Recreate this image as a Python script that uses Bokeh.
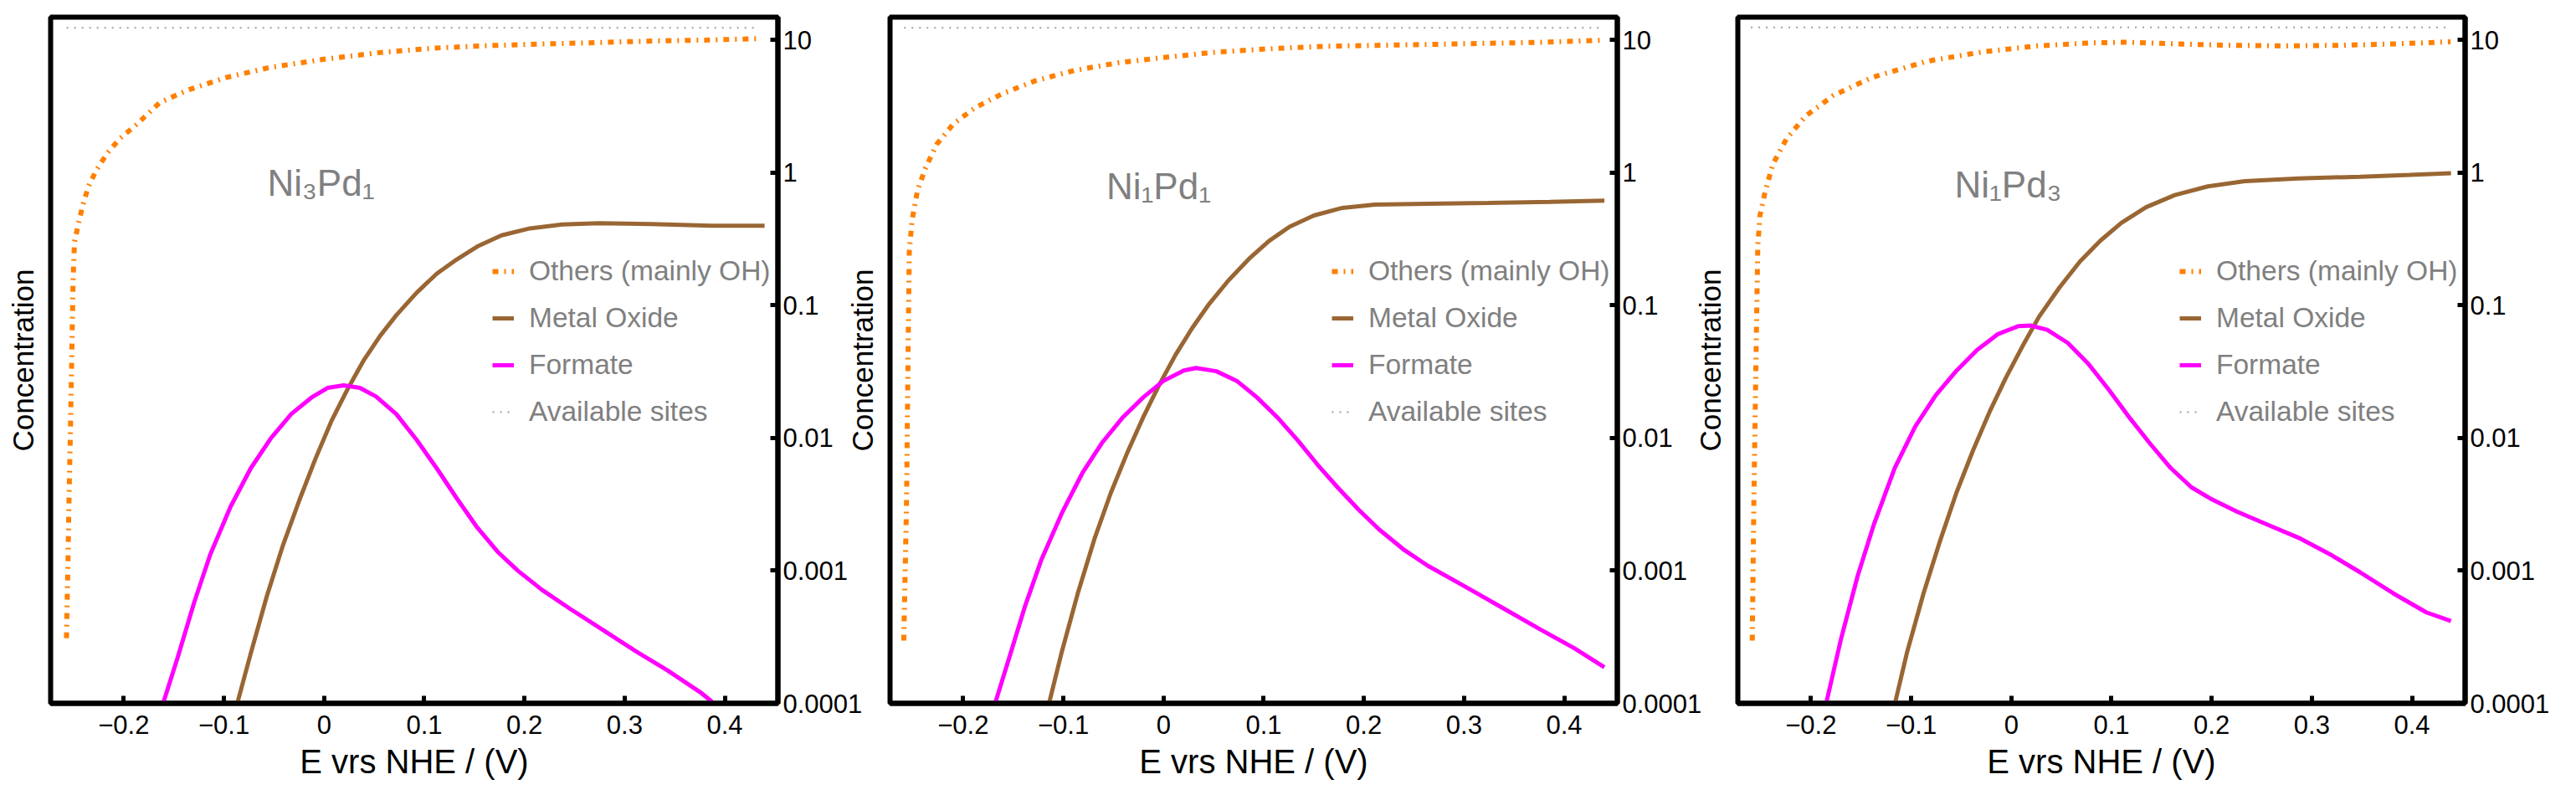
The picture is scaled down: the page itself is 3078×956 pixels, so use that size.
from bokeh.plotting import figure
from bokeh.layouts import row
from bokeh.models import (FixedTicker, CustomJSTickFormatter, LogAxis, Legend,
                          LegendItem, Label)
from bokeh.embed import file_html
from bokeh.resources import INLINE

FONT = "Liberation Sans"

# ---------------- data ----------------
panel_names = ["Ni\u2083Pd\u2081", "Ni\u2081Pd\u2081", "Ni\u2081Pd\u2083"]
legend_labels = ["Others (mainly OH)", "Metal Oxide", "Formate", "Available sites"]
x_ticks = [-0.2, -0.1, 0.0, 0.1, 0.2, 0.3, 0.4]
y_ticks = [1e-4, 1e-3, 1e-2, 1e-1, 1.0, 10.0]

# Panel 1: Ni3Pd1
p1_others_x = [-0.2572, -0.2556, -0.2545, -0.2533, -0.2519, -0.2506, -0.2492, -0.245, -0.2408,
               -0.2353, -0.2269, -0.2158, -0.2033, -0.1883, -0.1641, -0.1368, -0.0984, -0.0546,
               0.0, 0.0549, 0.1097, 0.1645, 0.2192, 0.274, 0.3287, 0.3835, 0.4328]
p1_others_y = [3.1e-4, 1.26e-3, 4.0e-3, 1.07e-2, 4.13e-2, 0.152, 0.298, 0.42, 0.571,
               0.782, 1.06, 1.416, 1.82, 2.26, 3.36, 4.16, 5.18, 6.18,
               7.13, 8.0, 8.65, 9.04, 9.29, 9.53, 9.79, 9.95, 10.2]
p1_oxide_x = [-0.0862, -0.0733, -0.0572, -0.041, -0.0248, -0.0087, 0.0075, 0.0237, 0.0398,
              0.0559, 0.0721, 0.0923, 0.1125, 0.1327, 0.1529, 0.1771, 0.2054, 0.2377, 0.2741,
              0.3266, 0.3872, 0.4397]
p1_oxide_y = [1.03e-4, 2.37e-4, 6.41e-4, 1.56e-3, 3.38e-3, 6.95e-3, 1.35e-2, 2.35e-2, 3.87e-2,
              5.87e-2, 8.41e-2, 0.124, 0.173, 0.222, 0.277, 0.336, 0.379, 0.406, 0.415,
              0.408, 0.397, 0.397]
p1_formate_x = [-0.1602, -0.146, -0.1298, -0.1137, -0.0935, -0.0733, -0.0531, -0.0329, -0.0128,
                0.0034, 0.0196, 0.0357, 0.0519, 0.0721, 0.0923, 0.1125, 0.1327, 0.1529, 0.1731,
                0.1933, 0.2175, 0.2458, 0.2781, 0.3104, 0.3428, 0.375, 0.3872]
p1_formate_y = [1.03e-4, 2.24e-4, 5.73e-4, 1.32e-3, 3.02e-3, 5.89e-3, 9.95e-3, 1.51e-2, 2.01e-2,
                2.38e-2, 2.49e-2, 2.38e-2, 2.05e-2, 1.51e-2, 9.68e-3, 5.89e-3, 3.48e-3, 2.11e-3,
                1.39e-3, 1.0e-3, 7.16e-4, 5.14e-4, 3.58e-4, 2.49e-4, 1.77e-4, 1.22e-4, 1.03e-4]
p1_sites_x = [-0.257, 0.434]
p1_sites_y = [12.3, 12.3]

# Panel 2: Ni1Pd1
p2_others_x = [-0.2593, -0.2566, -0.255, -0.2538, -0.2511, -0.2456, -0.2374, -0.2264, -0.2099,
               -0.1879, -0.1604, -0.1275, -0.089, -0.0451, -0.001, 0.0484, 0.1033, 0.1582,
               0.2132, 0.2681, 0.323, 0.378, 0.4385]
p2_others_y = [2.97e-4, 3.03e-3, 4.32e-2, 0.254, 0.432, 0.733, 1.09, 1.63, 2.32,
               3.08, 3.94, 4.92, 5.87, 6.71, 7.33, 8.02, 8.53, 8.91,
               9.08, 9.23, 9.40, 9.57, 9.91]
p2_oxide_x = [-0.1144, -0.1014, -0.0852, -0.069, -0.0527, -0.0365, -0.0203, -0.004, 0.0122,
              0.0285, 0.0446, 0.0649, 0.0852, 0.1054, 0.1258, 0.1501, 0.1785, 0.211, 0.2637,
              0.3245, 0.3854, 0.4401]
p2_oxide_y = [9.9e-5, 2.47e-4, 6.90e-4, 1.73e-3, 3.84e-3, 7.64e-3, 1.43e-2, 2.54e-2, 4.25e-2,
              6.70e-2, 0.100, 0.154, 0.223, 0.305, 0.390, 0.474, 0.541, 0.573, 0.582,
              0.589, 0.600, 0.614]
p2_formate_x = [-0.1683, -0.1541, -0.1379, -0.1217, -0.1014, -0.0811, -0.0608, -0.0406, -0.0203,
                0.0, 0.0203, 0.0325, 0.0527, 0.0731, 0.0933, 0.1136, 0.1339, 0.1541, 0.1744,
                0.1947, 0.215, 0.2393, 0.2637, 0.2961, 0.3367, 0.3772, 0.4097, 0.4401]
p2_formate_y = [9.9e-5, 2.20e-4, 5.50e-4, 1.22e-3, 2.72e-3, 5.42e-3, 9.31e-3, 1.43e-2, 2.02e-2,
                2.69e-2, 3.22e-2, 3.36e-2, 3.18e-2, 2.69e-2, 2.02e-2, 1.43e-2, 9.59e-3, 6.24e-3,
                4.19e-3, 2.88e-3, 2.05e-3, 1.45e-3, 1.09e-3, 7.96e-4, 5.33e-4, 3.57e-4, 2.61e-4,
                1.87e-4]
p2_sites_x = [-0.259, 0.438]
p2_sites_y = [12.3, 12.3]

# Panel 3: Ni1Pd3
p3_others_x = [-0.2586, -0.257, -0.2547, -0.2531, -0.2509, -0.2465, -0.2382, -0.2245, -0.2052,
               -0.1777, -0.1392, -0.0842, -0.0292, 0.0259, 0.0809, 0.1139, 0.1634, 0.2184,
               0.2735, 0.3285, 0.3835, 0.4385]
p3_others_y = [2.97e-4, 3.31e-3, 4.73e-2, 0.279, 0.474, 0.676, 1.15, 1.79, 2.67,
               3.80, 5.19, 6.89, 8.09, 8.99, 9.48, 9.57, 9.31, 9.08,
               8.99, 9.08, 9.31, 9.66]
p3_oxide_x = [-0.1156, -0.1041, -0.0876, -0.0712, -0.0547, -0.0383, -0.0219, -0.0054, 0.0111,
              0.0276, 0.0481, 0.0687, 0.0892, 0.1098, 0.1345, 0.1632, 0.1961, 0.2331, 0.2867,
              0.3483, 0.3977, 0.4389]
p3_oxide_y = [1.04e-4, 2.42e-4, 6.75e-4, 1.67e-3, 3.88e-3, 8.02e-3, 1.56e-2, 2.84e-2, 4.90e-2,
              8.17e-2, 0.136, 0.214, 0.308, 0.417, 0.547, 0.675, 0.785, 0.859, 0.902,
              0.929, 0.959, 0.986]
p3_formate_x = [-0.1843, -0.1699, -0.1534, -0.137, -0.1164, -0.0959, -0.0753, -0.0547, -0.0342,
                -0.0136, 0.007, 0.0193, 0.0358, 0.0563, 0.0769, 0.0975, 0.118, 0.1386, 0.1591,
                0.1797, 0.2003, 0.225, 0.2538, 0.2867, 0.3195, 0.3483, 0.3812, 0.4142, 0.4389]
p3_formate_y = [1.04e-4, 3.08e-4, 9.12e-4, 2.25e-3, 5.93e-3, 1.22e-2, 2.10e-2, 3.21e-2, 4.60e-2,
                6.04e-2, 6.95e-2, 7.03e-2, 6.53e-2, 5.20e-2, 3.62e-2, 2.30e-2, 1.42e-2, 9.04e-3,
                5.93e-3, 4.25e-3, 3.44e-3, 2.79e-3, 2.25e-3, 1.77e-3, 1.31e-3, 9.70e-4, 6.75e-4,
                4.85e-4, 4.17e-4]
p3_sites_x = [-0.260, 0.436]
p3_sites_y = [12.4, 12.4]

label_pos_x = [-0.0567, -0.0571, -0.0567]
label_pos_y = [0.83, 0.79, 0.81]

# ---------------- styling ----------------
C_ORANGE = "#FF8000"
C_BROWN = "#996633"
C_MAGENTA = "#FF00FF"
C_SITES = "#a0a0a0"
C_GRAY = "#808080"
C_FRAME = "black"

panels = [
    (p1_others_x, p1_others_y, p1_oxide_x, p1_oxide_y, p1_formate_x, p1_formate_y, p1_sites_x, p1_sites_y),
    (p2_others_x, p2_others_y, p2_oxide_x, p2_oxide_y, p2_formate_x, p2_formate_y, p2_sites_x, p2_sites_y),
    (p3_others_x, p3_others_y, p3_oxide_x, p3_oxide_y, p3_formate_x, p3_formate_y, p3_sites_x, p3_sites_y),
]
margins = [None, (0, 0, 0, -36), (0, 0, 0, -26)]

x_fmt_code = """
if (Math.abs(tick) < 1e-9) { return '0'; }
const s = Math.abs(tick).toFixed(1);
return tick < 0 ? '\\u2212' + s : s;
"""

figs = []
for i, (ox, oy, mx, my, fx, fy, sx, sy) in enumerate(panels):
    kw = {}
    if margins[i] is not None:
        kw["margin"] = margins[i]
    p = figure(frame_width=869, frame_height=820,
               x_range=(-0.273, 0.453), y_range=(1e-4, 14.8),
               y_axis_type="log", y_axis_location="right",
               output_backend="svg", toolbar_location=None,
               min_border_left=60, min_border_right=110,
               min_border_top=20, min_border_bottom=100,
               border_fill_color=None, **kw)
    p.grid.visible = False
    p.outline_line_color = C_FRAME
    p.outline_line_width = 6
    ya = p.yaxis[0]
    xa = p.xaxis[0]
    ya.ticker = FixedTicker(ticks=y_ticks, minor_ticks=[])
    ya.formatter = CustomJSTickFormatter(code="return tick.toString();")
    xa.ticker = FixedTicker(ticks=x_ticks, minor_ticks=[])
    xa.formatter = CustomJSTickFormatter(code=x_fmt_code)
    xa.axis_label = "E vrs NHE / (V)"
    for ax in (ya, xa):
        ax.axis_line_color = C_FRAME
        ax.axis_line_width = 6
        ax.major_tick_line_color = C_FRAME
        ax.major_tick_line_width = 5
        ax.major_tick_in = 9
        ax.major_tick_out = 0
        ax.minor_tick_in = 0
        ax.minor_tick_out = 0
        ax.major_label_text_font = FONT
        ax.major_label_text_font_size = "31px"
        ax.major_label_text_color = "black"
    ya.major_label_standoff = 6
    xa.major_label_standoff = 14
    xa.axis_label_text_font = FONT
    xa.axis_label_text_font_size = "40px"
    xa.axis_label_text_font_style = "normal"
    xa.axis_label_text_color = "black"
    xa.axis_label_standoff = 8

    # left side: label only, no ticks
    la = LogAxis(ticker=FixedTicker(ticks=[], minor_ticks=[]),
                 axis_label="Concentration", axis_line_color=None,
                 major_tick_in=0, major_tick_out=0, minor_tick_in=0, minor_tick_out=0,
                 major_label_text_font_size="0px",
                 axis_label_text_font=FONT, axis_label_text_font_size="35px",
                 axis_label_text_font_style="normal", axis_label_text_color="black",
                 axis_label_standoff=14)
    p.add_layout(la, "left")

    r_sites = p.line(sx, sy, line_color=C_SITES, line_width=2, line_dash="2 7")
    r_others = p.line(ox, oy, line_color=C_ORANGE, line_width=6, line_dash="7 7 2 7")
    r_oxide = p.line(mx, my, line_color=C_BROWN, line_width=5)
    r_formate = p.line(fx, fy, line_color=C_MAGENTA, line_width=5)

    legend = Legend(items=[LegendItem(label=legend_labels[0], renderers=[r_others]),
                           LegendItem(label=legend_labels[1], renderers=[r_oxide]),
                           LegendItem(label=legend_labels[2], renderers=[r_formate]),
                           LegendItem(label=legend_labels[3], renderers=[r_sites])],
                    location=(528, 328), glyph_width=26, glyph_height=40,
                    label_standoff=18, spacing=16, padding=0, margin=0,
                    border_line_color=None, background_fill_alpha=0,
                    label_text_font=FONT, label_text_font_size="33.5px",
                    label_text_color=C_GRAY)
    p.add_layout(legend)

    p.add_layout(Label(x=label_pos_x[i], y=label_pos_y[i], text=panel_names[i],
                       text_font=FONT, text_font_size="44px", text_color=C_GRAY,
                       text_baseline="alphabetic", text_align="left"))
    figs.append(p)

layout = row(*figs)
open("out.html", "w").write(file_html(layout, INLINE))
